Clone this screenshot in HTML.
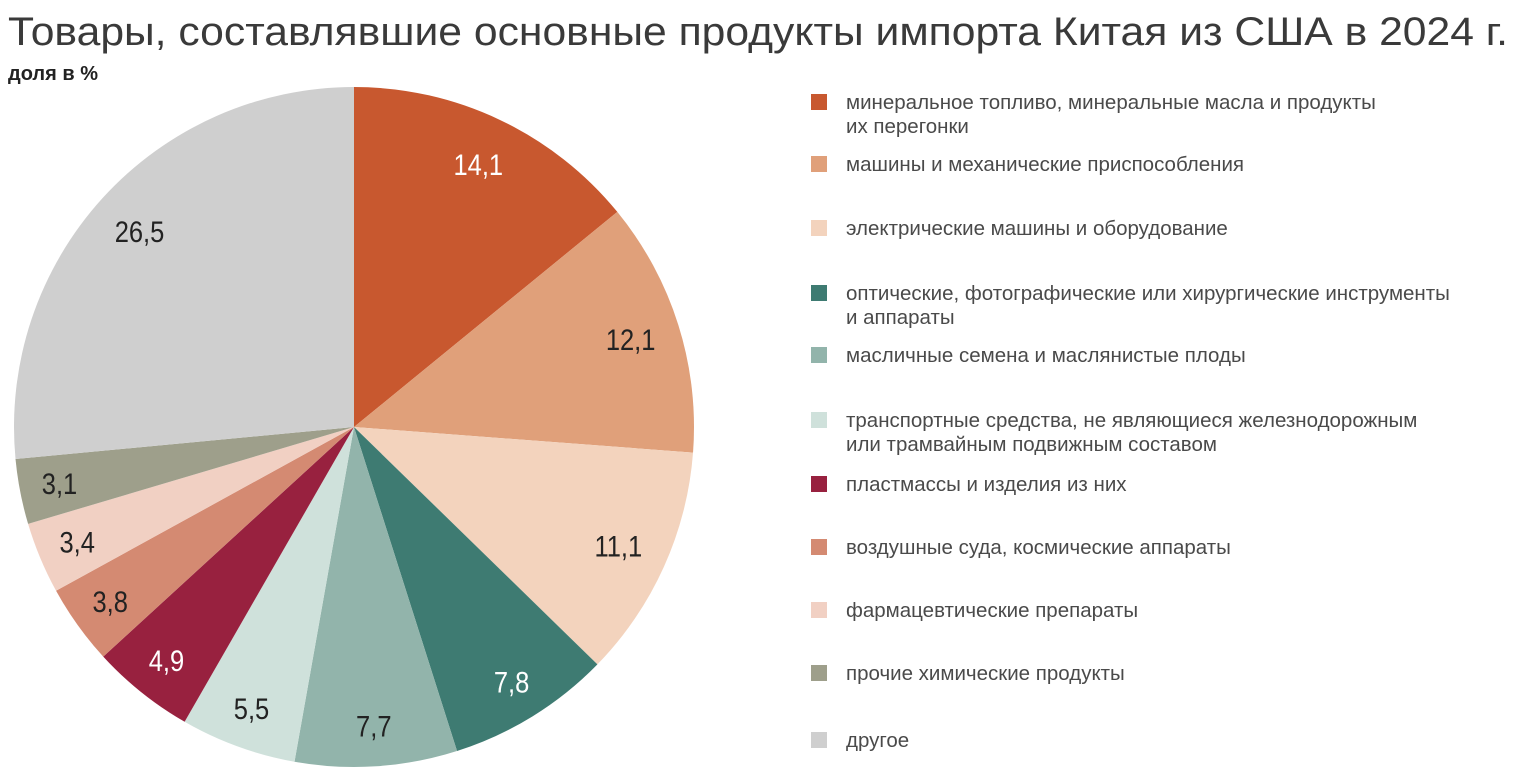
<!DOCTYPE html>
<html><head><meta charset="utf-8"><style>
body{margin:0;background:#fff;width:1531px;height:778px;overflow:hidden;font-family:"Liberation Sans","DejaVu Sans",sans-serif}
</style></head><body>
<svg width="1531" height="778">
<text x="8" y="45" font-size="40" fill="#3a3a3a" textLength="1500" lengthAdjust="spacingAndGlyphs">Товары, составлявшие основные продукты импорта Китая из США в 2024 г.</text>
<text x="8" y="80" font-size="20" font-weight="bold" fill="#222">доля в %</text>
<g id="pie"></g>
<g id="legend"></g>
</svg>
<script>
const categories=["минеральное топливо, минеральные масла и продукты|их перегонки","машины и механические приспособления","электрические машины и оборудование","оптические, фотографические или хирургические инструменты|и аппараты","масличные семена и маслянистые плоды","транспортные средства, не являющиеся железнодорожным|или трамвайным подвижным составом","пластмассы и изделия из них","воздушные суда, космические аппараты","фармацевтические препараты","прочие химические продукты","другое"];
const values=[14.1,12.1,11.1,7.8,7.7,5.5,4.9,3.8,3.4,3.1,26.5];
const labels=["14,1","12,1","11,1","7,8","7,7","5,5","4,9","3,8","3,4","3,1","26,5"];
const colors=["#c8582f","#e0a07a","#f3d3bd","#3e7b72","#92b4ab","#cfe1db","#98213f","#d48a72","#f1d0c3","#9e9f8b","#cfcfcf"];
const textColors=["#fff","#222","#222","#fff","#222","#222","#fff","#222","#222","#222","#222"];
const NS="http://www.w3.org/2000/svg";
const cx=354,cy=427,R=340,LR=300;
const total=values.reduce((a,b)=>a+b,0);
const pie=document.getElementById('pie');
let acc=0;
function pt(f,r){const a=f*2*Math.PI;return [cx+r*Math.sin(a),cy-r*Math.cos(a)];}
values.forEach((v,i)=>{
  const f0=acc/total,f1=(acc+v)/total;acc+=v;
  const [x0,y0]=pt(f0,R),[x1,y1]=pt(f1,R);
  const p=document.createElementNS(NS,'path');
  p.setAttribute('d',`M${cx},${cy}L${x0},${y0}A${R},${R} 0 ${f1-f0>0.5?1:0} 1 ${x1},${y1}Z`);
  p.setAttribute('fill',colors[i]);
  
  
  pie.appendChild(p);
  const lr=v>10?LR-10:LR;
  const [lx,ly]=pt((f0+f1)/2,lr);
  const t=document.createElementNS(NS,'text');
  t.setAttribute('x',lx);t.setAttribute('y',ly+10);
  t.setAttribute('text-anchor','middle');t.setAttribute('font-size','30');
  t.setAttribute('fill',textColors[i]);
  t.setAttribute('transform',`translate(${lx} 0) scale(0.85 1) translate(${-lx} 0)`);
  t.textContent=labels[i];
  
  
  pie.appendChild(t);
});
const rowsY=[102,164,228,293,355,420,484,547,610,673,740];
const lg=document.getElementById('legend');
categories.forEach((c,i)=>{
  const g=document.createElementNS(NS,'g');
  
  
  const r=document.createElementNS(NS,'rect');
  r.setAttribute('x',811);r.setAttribute('y',rowsY[i]-8);r.setAttribute('width',16);r.setAttribute('height',16);
  r.setAttribute('fill',colors[i]);
  g.appendChild(r);
  c.split('|').forEach((line,j)=>{
    const t=document.createElementNS(NS,'text');
    t.setAttribute('x',846);t.setAttribute('y',rowsY[i]+7+j*24);
    t.setAttribute('font-size','20.5');t.setAttribute('fill','#4a4a4a');
    t.textContent=line;g.appendChild(t);
  });
  lg.appendChild(g);
});
</script>
</body></html>
